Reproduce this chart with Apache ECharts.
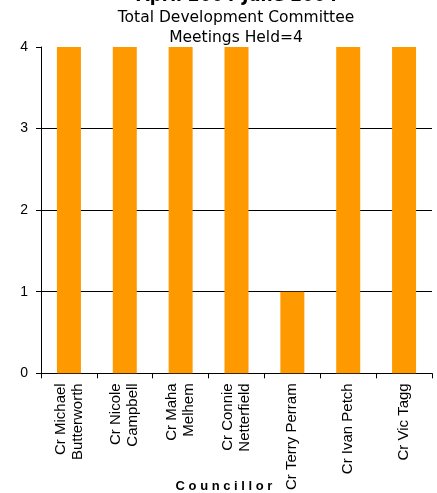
<!DOCTYPE html>
<html>
<head>
<meta charset="utf-8">
<script src="https://cdn.jsdelivr.net/npm/echarts@6/dist/echarts.min.js"></script>
<style>
  html, body { margin: 0; padding: 0; background: #fff; }
  #chart { width: 437px; height: 493px; }
</style>
</head>
<body>
<div id="chart"></div>
<script>
// Councillor attendance at Development Committee meetings
const councillors = [
  'Cr Michael\nButterworth',
  'Cr Nicole\nCampbell',
  'Cr Maha\nMelhem',
  'Cr Connie\nNetterfield',
  'Cr Terry Perram',
  'Cr Ivan Petch',
  'Cr Vic Tagg'
];
const meetingsAttended = [4, 4, 4, 4, 1, 4, 4];
const yTicks = [0, 1, 2, 3, 4];

const fontFamily = 'Liberation Sans, Arial, sans-serif';
const titleFont = 'DejaVu Sans, sans-serif';
const chart = echarts.init(document.getElementById('chart'), null, { renderer: 'canvas' });

chart.setOption({
  animation: false,
  backgroundColor: '#ffffff',
  title: [
    {
      text: 'April 2004-June 2004',
      left: 232, top: -17, textAlign: 'center',
      textStyle: { fontFamily: titleFont, fontSize: 17, fontWeight: 'bold', color: '#000' }
    },
    {
      text: 'Total Development Committee',
      left: 231, top: 5, textAlign: 'center',
      textStyle: { fontFamily: titleFont, fontSize: 15.5, fontWeight: 'normal', color: '#000' }
    },
    {
      text: 'Meetings Held=4',
      left: 231, top: 25, textAlign: 'center',
      textStyle: { fontFamily: titleFont, fontSize: 15.5, fontWeight: 'normal', color: '#000' }
    },
    {
      text: 'C o u n c i l l o r',
      left: 219, top: 475, textAlign: 'center',
      textStyle: { fontFamily, fontSize: 13, fontWeight: 'bold', color: '#000' }
    }
  ],
  grid: { left: 41, right: 5, top: 47, bottom: 119, containLabel: false },
  xAxis: {
    type: 'category',
    data: councillors,
    axisLine: { lineStyle: { color: '#000', width: 1 } },
    axisTick: { show: true, alignWithLabel: false, length: 5, lineStyle: { color: '#000' } },
    axisLabel: {
      rotate: 90, interval: 0, margin: 10,
      fontFamily, fontSize: 15, lineHeight: 17, color: '#000'
    },
    splitLine: { show: false }
  },
  yAxis: {
    type: 'value',
    min: yTicks[0], max: yTicks[yTicks.length - 1], interval: 1,
    axisLine: { show: true, lineStyle: { color: '#000', width: 1 } },
    axisTick: { show: true, length: 5, lineStyle: { color: '#000' } },
    axisLabel: { fontFamily, fontSize: 14, color: '#000', margin: 13 },
    splitLine: {
      show: true,
      lineStyle: { color: '#000', width: 1 },
      // no rule drawn at the top of the scale
      showMaxLine: false, showMinLine: false
    }
  },
  series: [{
    type: 'bar',
    data: meetingsAttended,
    barWidth: 24,
    itemStyle: { color: '#ff9900' }
  }]
});
</script>
</body>
</html>
